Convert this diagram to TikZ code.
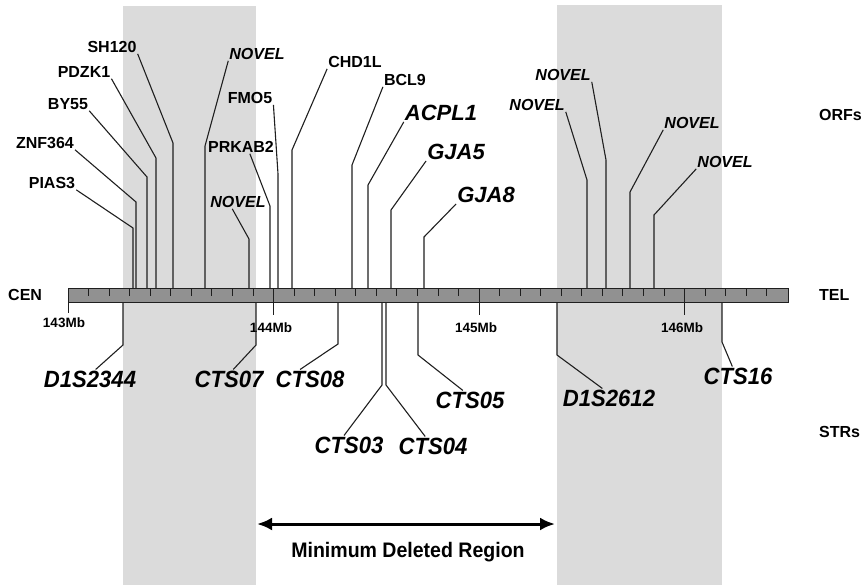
\documentclass[tikz,border=0pt]{standalone}
\usepackage{fontspec}
\setmainfont{Liberation Sans}
\usetikzlibrary{positioning, arrows.meta, calc}

\definecolor{band}{gray}{0.86}
\definecolor{chrom}{gray}{0.57}
\definecolor{ink}{gray}{0.12}

\begin{document}
\begin{tikzpicture}[
  x=1pt, y=-1pt,
  orf/.style = {font=\fontsize{16}{18}\selectfont\bfseries, inner sep=1pt},
  novel/.style = {orf, font=\fontsize{16}{18}\selectfont\bfseries\itshape},
  gene/.style = {font=\fontsize{22}{24}\selectfont\bfseries\itshape, inner sep=1pt},
  marker/.style = {font=\fontsize{23.5}{25}\selectfont\bfseries\itshape, inner sep=1pt,
                   xscale=0.94, transform shape},
  mb/.style = {font=\fontsize{13.5}{15}\selectfont\bfseries, inner sep=1pt},
  side/.style = {font=\fontsize{16}{18}\selectfont\bfseries, inner sep=0pt, anchor=west},
  lead/.style = {draw=ink, line width=1.1pt},
  tick/.style = {draw=ink, line width=0.8pt}
]
  \useasboundingbox (0,0) rectangle (866,585);

  % Shade the deleted intervals
  \path[fill=band] (123,6) rectangle (256,585);
  \path[fill=band] (557,5) rectangle (722,585);

  % Place the chromosome bar
  \node[draw=ink, fill=chrom, line width=0.8pt, inner sep=0pt, anchor=north west,
        minimum width=720pt, minimum height=14pt] (bar) at (68,288) {};

  \foreach \t in {1,...,34} {
    \pgfmathsetmacro{\tx}{68+20.55*\t}
    \path[tick] (\tx,288) -- (\tx,296);
  }
  \path[tick]
    (68,302) -- (68,313)
    (273.5,288) -- (273.5,315)
    (479,288) -- (479,315)
    (684.5,288) -- (684.5,315)
  ;

  \node[mb] (mb_143) at (64,323) {143Mb};
  \node[mb] (mb_144) at (271,328) {144Mb};
  \node[mb] (mb_145) at (476,328) {145Mb};
  \node[mb] (mb_146) at (682,328) {146Mb};

  \node[side] (cen) at (8,295) {CEN};
  \node[side] (tel) at (819,295) {TEL};
  \node[side] (orfs) at (819,115) {ORFs};
  \node[side] (strs) at (819,432) {STRs};

  % Place the ORF labels
  \node[orf] (pias3) at (52,183) {PIAS3};
  \node[orf] (znf364) at (45,143) {ZNF364};
  \node[orf] (by55) at (68,104) {BY55};
  \node[orf] (pdzk1) at (84,72) {PDZK1};
  \node[orf] (sh120) at (112,47) {SH120};
  \node[novel] (novel_0) at (257,54) {NOVEL};
  \node[orf] (prkab2) at (241,147) {PRKAB2};
  \node[novel] (novel_1) at (238,202) {NOVEL};
  \node[orf] (fmo5) at (250,98) {FMO5};
  \node[orf] (chd1l) at (355,62) {CHD1L};
  \node[orf] (bcl9) at (405,80) {BCL9};
  \node[gene] (acpl1) at (441,113) {ACPL1};
  \node[gene] (gja5) at (456,152) {GJA5};
  \node[gene] (gja8) at (486,195) {GJA8};
  \node[novel] (novel_2) at (537,105) {NOVEL};
  \node[novel] (novel_3) at (563,75) {NOVEL};
  \node[novel] (novel_4) at (692,123) {NOVEL};
  \node[novel] (novel_5) at (725,162) {NOVEL};

  \coordinate (pias3_bend) at (133,228);
  \coordinate (znf364_bend) at (136,202);
  \coordinate (by55_bend) at (147,177);
  \coordinate (pdzk1_bend) at (156,158);
  \coordinate (sh120_bend) at (173,143);
  \coordinate (novel_0_bend) at (205,146);
  \coordinate (prkab2_bend) at (270,206);
  \coordinate (novel_1_bend) at (249,239);
  \coordinate (fmo5_bend) at (278,174);
  \coordinate (chd1l_bend) at (292,150);
  \coordinate (bcl9_bend) at (352,165);
  \coordinate (acpl1_bend) at (368,185);
  \coordinate (gja5_bend) at (391,210);
  \coordinate (gja8_bend) at (424,237);
  \coordinate (novel_2_bend) at (587,180);
  \coordinate (novel_3_bend) at (606,160);
  \coordinate (novel_4_bend) at (630,192);
  \coordinate (novel_5_bend) at (654,215);

  % Draw the ORF leads down to the bar
  \path[lead]
    (pias3.south east) -- (pias3_bend) -- (pias3_bend |- bar.north)
    (znf364.south east) -- (znf364_bend) -- (znf364_bend |- bar.north)
    (by55.south east) -- (by55_bend) -- (by55_bend |- bar.north)
    (pdzk1.south east) -- (pdzk1_bend) -- (pdzk1_bend |- bar.north)
    (sh120.south east) -- (sh120_bend) -- (sh120_bend |- bar.north)
    (novel_0.south west) -- (novel_0_bend) -- (novel_0_bend |- bar.north)
    ($(prkab2.south west)!0.63!(prkab2.south east)$) -- (prkab2_bend) -- (prkab2_bend |- bar.north)
    ($(novel_1.south west)!0.4!(novel_1.south east)$) -- (novel_1_bend) -- (novel_1_bend |- bar.north)
    (fmo5.south east) -- (fmo5_bend) -- (fmo5_bend |- bar.north)
    (chd1l.south west) -- (chd1l_bend) -- (chd1l_bend |- bar.north)
    (bcl9.south west) -- (bcl9_bend) -- (bcl9_bend |- bar.north)
    (acpl1.south west) -- (acpl1_bend) -- (acpl1_bend |- bar.north)
    (gja5.south west) -- (gja5_bend) -- (gja5_bend |- bar.north)
    (gja8.south west) -- (gja8_bend) -- (gja8_bend |- bar.north)
    (novel_2.south east) -- (novel_2_bend) -- (novel_2_bend |- bar.north)
    (novel_3.south east) -- (novel_3_bend) -- (novel_3_bend |- bar.north)
    (novel_4.south west) -- (novel_4_bend) -- (novel_4_bend |- bar.north)
    (novel_5.south west) -- (novel_5_bend) -- (novel_5_bend |- bar.north)
  ;

  % Place the STR labels
  \node[marker] (d1s2344) at (90,379) {D1S2344};
  \node[marker] (cts07) at (229,379) {CTS07};
  \node[marker] (cts08) at (310,379) {CTS08};
  \node[marker] (cts03) at (349,445) {CTS03};
  \node[marker] (cts04) at (433,446) {CTS04};
  \node[marker] (cts05) at (470,400) {CTS05};
  \node[marker] (d1s2612) at (609,398) {D1S2612};
  \node[marker] (cts16) at (738,376) {CTS16};

  \coordinate (d1s2344_bend) at (123,345);
  \coordinate (cts07_bend) at (256,345);
  \coordinate (cts08_bend) at (338,344);
  \coordinate (cts03_bend) at (382,385);
  \coordinate (cts04_bend) at (386,385);
  \coordinate (cts05_bend) at (418,355);
  \coordinate (d1s2612_bend) at (557,355);
  \coordinate (cts16_bend) at (722,342);

  % Draw the STR leads up to the bar
  \path[lead]
    ($(d1s2344.north west)!0.56!(d1s2344.north east)$) -- (d1s2344_bend) -- (d1s2344_bend |- bar.south)
    ($(cts07.north west)!0.56!(cts07.north east)$) -- (cts07_bend) -- (cts07_bend |- bar.south)
    ($(cts08.north west)!0.36!(cts08.north east)$) -- (cts08_bend) -- (cts08_bend |- bar.south)
    ($(cts03.north west)!0.43!(cts03.north east)$) -- (cts03_bend) -- (cts03_bend |- bar.south)
    ($(cts04.north west)!0.39!(cts04.north east)$) -- (cts04_bend) -- (cts04_bend |- bar.south)
    ($(cts05.north west)!0.4!(cts05.north east)$) -- (cts05_bend) -- (cts05_bend |- bar.south)
    ($(d1s2612.north west)!0.43!(d1s2612.north east)$) -- (d1s2612_bend) -- (d1s2612_bend |- bar.south)
    ($(cts16.north west)!0.42!(cts16.north east)$) -- (cts16_bend) -- (cts16_bend |- bar.south)
  ;

  % Mark the minimum deleted region
  \coordinate (mdr_left) at (257,524);
  \coordinate (mdr_right) at (555,524);
  \path[draw, line width=3pt, {Latex[length=15pt,width=13pt]}-{Latex[length=15pt,width=13pt]}]
    (mdr_left) -- (mdr_right)
  ;
  \node[font=\fontsize{21}{23}\selectfont\bfseries, xscale=0.93, transform shape]
    (mdr_label) at (408,552) {Minimum Deleted Region};
\end{tikzpicture}
\end{document}
